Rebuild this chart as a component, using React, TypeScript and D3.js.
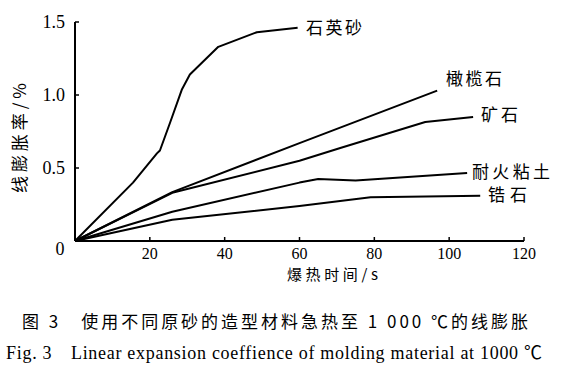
import * as d3 from 'd3'

type Pt = [number, number]

// thermal expansion curves (time s, expansion %)
const quartz: Pt[] = [[0, 0], [15.5, 0.4], [21.9, 0.6], [22.7, 0.62], [25.4, 0.81], [28.6, 1.04], [30.7, 1.14], [38.3, 1.33], [48.6, 1.43], [59.5, 1.46]]
const olivine: Pt[] = [[0, 0], [26, 0.335], [60, 0.67], [96.8, 1.03]]
const ore: Pt[] = [[0, 0], [26, 0.33], [60, 0.55], [70.9, 0.637], [93.6, 0.815], [106.4, 0.85]]
const clay: Pt[] = [[0, 0], [26, 0.2], [60, 0.4], [65, 0.425], [75, 0.415], [104.8, 0.465]]
const zircon: Pt[] = [[0, 0], [26, 0.145], [60, 0.24], [79, 0.3], [108.3, 0.31]]

const seriesNames = ['石英砂', '橄榄石', '矿石', '耐火粘土', '锆石']
const seriesData = [quartz, olivine, ore, clay, zircon]

const xTicks = [20, 40, 60, 80, 100, 120]
const yTicks = [0.5, 1.0, 1.5]

const font = '"Liberation Serif", "Noto Sans CJK SC", serif'
const cjk = '"Noto Sans CJK SC", "Liberation Serif", serif'

export default function App() {
  const x = d3.scaleLinear().domain([0, 120]).range([75, 524])
  const y = d3.scaleLinear().domain([0, 1.5]).range([241, 22])
  const line = d3.line<Pt>().x(d => x(d[0])).y(d => y(d[1]))

  // label anchor positions next to each curve end
  const labelPos: { x: number; y: number; w: number }[] = [
    { x: 306, y: 28, w: 56 },
    { x: 446, y: 79, w: 56 },
    { x: 481, y: 115, w: 37 },
    { x: 472, y: 172, w: 78 },
    { x: 488, y: 195, w: 39 },
  ]

  return (
    <svg width={580} height={375} style={{ position: 'absolute', left: 0, top: 0, background: '#fff' }}>
      {/* axes */}
      <line x1={x(0)} x2={x(0)} y1={y(1.5)} y2={y(0)} stroke="#000" strokeWidth={2} />
      <line x1={x(0)} x2={x(120)} y1={y(0)} y2={y(0)} stroke="#000" strokeWidth={2} />
      {yTicks.map(t => (
        <g key={t}>
          <line x1={x(0)} x2={x(0) + 4} y1={y(t)} y2={y(t)} stroke="#000" strokeWidth={1.5} />
          <text x={65} y={y(t)} dy="0.35em" textAnchor="end" fontFamily={font} fontSize={18}>
            {t.toFixed(1)}
          </text>
        </g>
      ))}
      <text x={60} y={249} dy="0.35em" textAnchor="middle" fontFamily={font} fontSize={18}>0</text>
      {xTicks.map(t => (
        <g key={t}>
          <line x1={x(t)} x2={x(t)} y1={y(0)} y2={y(0) - 4} stroke="#000" strokeWidth={1.5} />
          <text x={x(t)} y={253} dy="0.35em" textAnchor="middle" fontFamily={font} fontSize={16}>
            {t}
          </text>
        </g>
      ))}

      {/* axis titles */}
      <text x={287} y={275} dy="0.35em" fontFamily={cjk} fontSize={15} textLength={91}>爆热时间/s</text>
      <text
        transform="translate(20,138) rotate(-90)"
        textAnchor="middle"
        dy="0.35em"
        fontFamily={cjk}
        fontSize={17}
        textLength={110}
      >
        线膨胀率/%
      </text>

      {/* curves */}
      {seriesData.map((d, i) => (
        <path key={seriesNames[i]} d={line(d) ?? ''} fill="none" stroke="#000" strokeWidth={2} strokeLinejoin="round" />
      ))}
      {seriesNames.map((n, i) => (
        <text key={n} x={labelPos[i].x} y={labelPos[i].y} dy="0.35em" fontFamily={cjk} fontSize={17} textLength={labelPos[i].w}>
          {n}
        </text>
      ))}

      {/* caption */}
      <text x={22} y={322} dy="0.35em" fontFamily={cjk} fontSize={17} textLength={506} lengthAdjust="spacing">
        图 3　使用不同原砂的造型材料急热至 1 000 ℃的线膨胀
      </text>
      <text x={6} y={353} dy="0.35em" fontFamily={font} fontSize={18} textLength={536} lengthAdjust="spacing">
        Fig. 3　Linear expansion coeffience of molding material at 1000 ℃
      </text>
    </svg>
  )
}
